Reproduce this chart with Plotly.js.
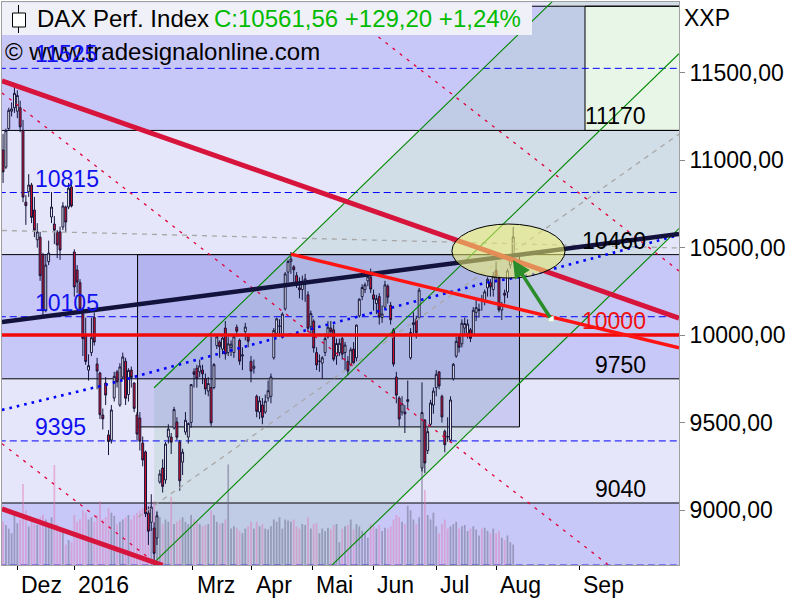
<!DOCTYPE html>
<html><head><meta charset="utf-8">
<script src="https://cdn.plot.ly/plotly-3.0.1.min.js"></script>
<style>html,body{margin:0;padding:0;background:#fff}#chart{width:800px;height:600px}</style>
</head><body><div id="chart"></div>
<script>
// ---- price data (daily OHLC, 24 Nov 2015 .. 9 Aug 2016), bar index 0 = 1 Dec 2015
const firstBar = -5;
const openP = [
 11058,10960,11180,11280,11300,
 11280,11300,11170,10760,10820,10858,10715,10545,10560,10460,10140,10420,10675,10635,10590,10590,10618,10732,10732,10847,
 10475,10372,10300,10120,10000,9800,9900,10100,9835,9783,9543,9726,9429,9400,9640,9789,9600,9760,9850,9660,
 9800,9726,9543,9526,9383,9332,8983,8930,8897,8840,9160,9240,9172,9417,9417,9469,9503,9389,9274,9446,9417,
 9500,9790,9810,9790,9800,9750,9680,9700,9700,9940,9960,9920,10040,9900,9930,9900,10045,9970,9880,10020,10000,
 9850,9810,9650,9560,9600,9560,9640,9650,9870,10010,10050,9990,10150,10360,10420,10390,10340,10270,10260,10290,10230,
 10050,10080,9900,9850,9840,9900,9990,10040,10030,9880,9900,9980,9900,9850,9830,9920,9870,10110,10220,10260,10310,10330,
 10230,10180,10220,10100,10160,10280,10170,10030,9760,9640,9560,9560,9620,9870,10060,10090,10100,9240,9514,9340,9490,9600,
 9700,9790,9650,9450,9420,9400,9750,9880,9990,9950,10040,10010,10030,10000,10130,10140,10200,10190,10270,10300,10260,
 10370,10326,10143,10240,10246,10400,10450];
const highP = [
 11150,11180,11300,11330,11430,
 11400,11340,11230,10800,10920,10870,10790,10640,10590,10470,10460,10540,10818,10680,10600,10620,10760,10740,10870,10860,
 10490,10400,10320,10140,10100,9890,10100,10130,9870,9790,9580,9760,9457,9600,9790,9800,9840,9900,9870,9810,
 9820,9730,9560,9560,9420,9340,9020,9090,8930,8990,9230,9290,9390,9490,9440,9590,9530,9400,9350,9560,9500,
 9720,9810,9830,9860,9830,9780,9760,9990,9840,10000,9970,9990,10080,9990,9970,10000,10060,9980,9930,10070,10010,
 9880,9860,9660,9650,9640,9660,9740,9780,10040,10100,10090,10130,10360,10430,10475,10400,10360,10330,10340,10350,10250,
 10140,10090,9930,9890,9880,10010,10080,10080,10060,9980,9980,9990,9960,9880,9930,9960,10060,10210,10290,10300,10350,10380,
 10260,10230,10240,10170,10310,10290,10190,10040,9790,9650,9650,9600,9740,10040,10130,10110,10270,9730,9520,9470,9630,9700,
 9800,9790,9660,9460,9530,9650,9840,9990,10000,10090,10100,10090,10040,10160,10200,10180,10230,10260,10330,10320,10360,
 10420,10340,10190,10260,10380,10460,10618];
const lowP = [
 10870,10950,11170,11250,11270,
 11240,11160,10760,10630,10790,10640,10560,10500,10310,10110,10130,10400,10640,10520,10440,10430,10600,10590,10720,10730,
 10220,10240,10130,9880,9830,9740,9880,9940,9690,9520,9460,9600,9314,9380,9620,9700,9590,9750,9600,9620,
 9700,9560,9400,9340,9250,8960,8800,8880,8699,8800,9150,9100,9150,9380,9320,9460,9400,9110,9200,9430,9380,
 9470,9700,9700,9760,9720,9660,9650,9480,9690,9920,9870,9890,9860,9880,9880,9870,9990,9830,9800,9970,9930,
 9730,9780,9530,9520,9490,9550,9620,9610,9860,9990,9990,9980,10140,10300,10350,10290,10270,10210,10200,10190,10020,
 10000,9900,9800,9790,9750,9880,9980,9990,9850,9830,9880,9860,9800,9770,9820,9830,9850,10100,10200,10240,10280,10240,
 10140,10120,10060,10070,10150,10180,10060,9820,9610,9480,9540,9440,9580,9860,10000,9980,10090,9220,9211,9320,9480,9550,
 9650,9690,9500,9330,9390,9390,9740,9870,9900,9930,10000,9980,9960,10000,10080,10100,10140,10170,10220,10220,10220,
 10300,10130,10086,10180,10212,10380,10440];
const closeP = [
 10933,11169,11285,11293,11382,
 11370,11190,10789,10740,10858,10673,10600,10590,10340,10139,10400,10469,10732,10600,10515,10486,10738,10646,10840,10738,
 10275,10303,10150,9980,9849,9825,9985,9960,9794,9545,9521,9657,9392,9572,9764,9732,9818,9875,9639,9798,
 9757,9581,9434,9393,9286,8979,8879,9017,8752,8967,9206,9135,9377,9463,9388,9574,9416,9167,9331,9513,9495,
 9717,9776,9751,9824,9778,9692,9723,9498,9831,9990,9933,9983,9892,9950,9948,9990,10022,9851,9887,10046,9965,
 9794,9822,9564,9624,9530,9622,9682,9761,10027,10093,10051,10120,10350,10421,10435,10373,10294,10259,10299,10321,10039,
 10123,9926,9829,9851,9870,9980,10045,10020,9862,9952,9953,9891,9943,9795,9916,9842,10057,10205,10272,10287,10334,10263,
 10205,10208,10103,10121,10287,10217,10088,9834,9657,9520,9607,9550,9631,10015,10071,10015,10257,9557,9269,9448,9612,9680,
 9776,9709,9532,9373,9418,9629,9833,9964,9930,10068,10066,10063,9981,10142,10157,10147,10198,10247,10319,10275,10337,
 10330,10144,10172,10228,10367,10432,10561];
const volume = [
 95,88,80,70,110,
 92,100,178,120,85,95,90,88,105,110,100,92,105,220,90,80,75,45,55,50,
 110,95,100,120,115,100,105,95,110,140,100,105,125,115,108,90,95,100,105,110,
 100,110,115,120,125,135,130,115,140,120,105,90,100,95,150,90,95,100,105,95,90,
 110,100,95,90,85,88,90,120,110,95,90,92,100,221,80,85,82,75,70,80,85,
 95,80,95,85,90,80,78,85,100,95,105,80,100,98,95,100,85,80,90,88,105,
 80,90,92,70,80,75,82,78,88,90,50,80,85,88,100,78,90,85,75,70,60,90,
 85,80,88,75,82,80,85,100,110,105,95,90,130,120,100,90,105,260,165,110,100,115,
 85,70,90,100,80,85,90,95,80,85,88,75,80,85,78,65,80,82,75,70,80,
 70,75,60,55,65,50,45];

// ---- axis and labels
const XMIN = -5.37, XMAX = 232.18, YMIN = 8685.6, YMAX = 11904.2;
const priceTicks = [9000, 9500, 10000, 10500, 11000, 11500];
const priceTickText = ['9000,00','9500,00','10000,00','10500,00','11000,00','11500,00'];
const monthTicks = [0, 19.9, 61.5, 82.3, 103.5, 124.9, 147, 168.1, 197.2];
const monthLabels = ['Dez','2016','Mrz','Apr','Mai','Jun','Jul','Aug','Sep'];

// ---- drawing tools (data coordinates: bar index, price)
const gridLevels = [9040, 9750, 10460, 11170, 11880];
const gridLabels = ['9040', '9750', '10460', '11170'];
const midLevels = [8685, 9395, 10105, 10815, 11525];
const supportLevel = 10000;
const darkBands = [[YMIN, 9040], [9750, 10460], [11170, 11880]];
const boxX = [42.2, 176.2], boxY = [9475, 10460];
const targetBoxX = [199.2, 240], targetBoxY = [11170, 11880];
const channelX = [48, 232.18];
const channelMid = [8699, 11609];
const channelWidth = 1000;
const resistX = [-5.37, 232.18], resistY = [11454, 10097];
const lowerRedX = [-5.37, 51], lowerRedY = [9006, 8684];
const aprilX = [96, 232.18], aprilY = [10463, 9928];
const navyX = [-5.37, 232.18], navyY = [10075, 10578];
const grayRiseX = [42.4, 232.18], grayRiseY = [8960, 11149];
const grayFlatX = [-5.37, 232.18], grayFlatY = [10598, 10498];
const redDashX = [-5.37, 232.18];
const redDashY = [[11384, 8372], [9379, 6367], [13379, 10367]];
const blueDotX = [-5.37, 30.8, 84.5, 130.8, 164.1, 180, 232.18];
const blueDotY = [9572, 9715, 9955, 10155, 10298, 10343, 10572];
const ellipseX = [152.5, 192.2], ellipseY = [10326, 10635];
const arrowFrom = [187.3, 10092], arrowTo = [173.9, 10429];

// ---- build
const PX = x => (x - 2) / 677;
const PY = y => (565 - y) / 563;
const xIdx = closeP.map((_, i) => firstBar + i);
const volScale = 2.6;
const FONT = 'Liberation Sans, Arial, sans-serif';

function line(x, y, color, width, dash) {
  return {type: 'scatter', mode: 'lines', x: x, y: y, hoverinfo: 'skip', showlegend: false,
          line: {color: color, width: width, dash: dash || 'solid'}};
}

const traces = [];
traces.push({type: 'bar', x: xIdx, y: volume.map(v => v * volScale), base: YMIN, width: 0.62,
  marker: {color: closeP.map((c, i) => c >= openP[i] ? 'rgba(105,105,135,0.5)' : 'rgba(225,115,175,0.45)'), line: {width: 0}},
  hoverinfo: 'skip', showlegend: false});
traces.push(line(grayFlatX, grayFlatY, '#a8a8a8', 1.3, '5px,5px'));
traces.push(line(grayRiseX, grayRiseY, '#a8a8a8', 1.3, '5px,5px'));
redDashY.forEach(y => traces.push(line(redDashX, y, '#e0003a', 1.3, '3px,6px')));
[1, 0, -1].forEach(k => traces.push(line(channelX, channelMid.map(v => v + k * channelWidth), '#008800', 1.1)));
traces.push(line(blueDotX, blueDotY, '#0000ff', 2.6, '2.6px,5px'));
traces.push(line(navyX, navyY, '#12123c', 4.5));
traces.push(line(resistX, resistY, '#d6143c', 5));
traces.push(line(lowerRedX, lowerRedY, '#d6143c', 5));
traces.push(line([XMIN, XMAX], [supportLevel, supportLevel], '#f00a0a', 3.5));
traces.push(line(aprilX, aprilY, '#ff1414', 3.5));
traces.push({type: 'candlestick', x: xIdx, open: openP, high: highP, low: lowP, close: closeP,
  increasing: {line: {color: '#14143c', width: 1}, fillcolor: '#ffffff'},
  decreasing: {line: {color: '#14143c', width: 1}, fillcolor: '#e0102a'},
  whiskerwidth: 0, hoverinfo: 'skip', showlegend: false});
traces.push({type: 'scatter', mode: 'markers', x: [arrowFrom[0]], y: [arrowFrom[1]], hoverinfo: 'skip', showlegend: false,
  marker: {symbol: 'square', size: 5, color: '#ffffff', line: {color: '#c8e0c8', width: 1}}});

const shapes = [];
const XL = XMIN - 5, XR = XMAX + 10;
darkBands.forEach(b => shapes.push({type: 'rect', layer: 'below', xref: 'x', x0: XL, x1: XR, yref: 'y', y0: b[0] - (b[0] === YMIN ? 50 : 0), y1: b[1],
  fillcolor: '#c8c8f8', line: {width: 0}}));
const cx0 = channelX[0], cx1 = channelX[1] + 10, slope = (channelMid[1] - channelMid[0]) / (channelX[1] - channelX[0]);
const cyAt = (x, k) => channelMid[0] + slope * (x - cx0) + k * channelWidth;
shapes.push({type: 'path', layer: 'below', xref: 'x', yref: 'y',
  path: `M ${cx0} ${cyAt(cx0, 1)} L ${cx1} ${cyAt(cx1, 1)} L ${cx1} ${cyAt(cx1, -1)} L ${cx0} ${cyAt(cx0, -1)} Z`,
  fillcolor: 'rgba(180,210,205,0.42)', line: {width: 0}});
shapes.push({type: 'rect', layer: 'below', xref: 'x', yref: 'y', x0: boxX[0], x1: boxX[1], y0: boxY[0], y1: boxY[1],
  fillcolor: 'rgba(120,120,220,0.25)', line: {color: '#000', width: 1}});
shapes.push({type: 'rect', layer: 'below', xref: 'x', yref: 'y', x0: targetBoxX[0], x1: targetBoxX[1], y0: targetBoxY[0], y1: targetBoxY[1],
  fillcolor: '#e8f6e8', line: {color: '#000', width: 1}});
gridLevels.forEach(v => shapes.push({type: 'line', layer: 'below', xref: 'x', x0: XL, x1: XR, yref: 'y', y0: v, y1: v,
  line: {color: '#000', width: 1}}));
midLevels.forEach(v => shapes.push({type: 'line', layer: 'below', xref: 'x', x0: XL, x1: XR, yref: 'y', y0: v, y1: v,
  line: {color: '#0000ff', width: 1, dash: '7px,4px'}}));
shapes.push({type: 'circle', layer: 'above', xref: 'x', yref: 'y', x0: ellipseX[0], x1: ellipseX[1], y0: ellipseY[0], y1: ellipseY[1],
  fillcolor: 'rgba(240,240,110,0.55)', line: {color: '#000', width: 1}});
// title panel + candle icon
shapes.push({type: 'rect', layer: 'above', xref: 'paper', yref: 'paper', x0: 0, x1: PX(532), y0: PY(35), y1: PY(3),
  fillcolor: '#f0f0f8', line: {width: 0}});
shapes.push({type: 'line', layer: 'above', xref: 'paper', yref: 'paper', x0: PX(18.5), x1: PX(18.5), y0: PY(33), y1: PY(5),
  line: {color: '#000', width: 1}});
shapes.push({type: 'rect', layer: 'above', xref: 'paper', yref: 'paper', x0: PX(12.5), x1: PX(25.5), y0: PY(27), y1: PY(13),
  fillcolor: '#fff', line: {color: '#000', width: 1}});

const ann = [];
const txt = (text, x, y, opts) => Object.assign({text: text, x: x, y: y, xref: 'paper', yref: 'paper', showarrow: false,
  xanchor: 'left', yanchor: 'middle', font: {family: FONT, size: 23, color: '#000'}}, opts || {});
ann.push(txt('DAX Perf. Index', PX(35), PY(19), {font: {family: FONT, size: 24, color: '#000'}}));
ann.push(txt('C:10561,56 +129,20 +1,24%', PX(212), PY(19), {font: {family: FONT, size: 24, color: '#00bb00'}}));
ann.push(txt('© www.tradesignalonline.com', PX(3), PY(51), {font: {family: FONT, size: 24, color: '#000'}}));
ann.push(txt('XXP', PX(682), PY(18)));
midLevels.forEach(v => ann.push(txt(String(v), PX(33), v, {yref: 'y', yshift: 14, font: {family: FONT, size: 23, color: '#1010f0'}})));
gridLabels.forEach((t, i) => ann.push(txt(t, PX(648), gridLevels[i], {yref: 'y', yshift: 14, xanchor: 'right'})));
ann.push(txt(String(supportLevel), PX(648), supportLevel, {yref: 'y', yshift: 14, xanchor: 'right', font: {family: FONT, size: 23, color: '#f01010'}}));
monthTicks.forEach((t, i) => ann.push(txt(monthLabels[i], t, PY(585), {xref: 'x', xshift: 2})));
ann.push({x: arrowTo[0], y: arrowTo[1], ax: arrowFrom[0], ay: arrowFrom[1], xref: 'x', yref: 'y', axref: 'x', ayref: 'y',
  text: '', showarrow: true, arrowhead: 2, arrowsize: 1, arrowwidth: 3.5, arrowcolor: '#2a8c2a'});

const layout = {
  width: 800, height: 600, margin: {l: 2, r: 121, t: 2, b: 35},
  paper_bgcolor: '#ffffff', plot_bgcolor: '#e6e6fa', showlegend: false, hovermode: false, boxgap: 0.05,
  xaxis: {range: [XMIN, XMAX], showgrid: false, zeroline: false, showline: true, mirror: true, linecolor: '#a0a0a0',
    ticks: 'outside', ticklen: 4, tickcolor: '#000', tickvals: monthTicks, showticklabels: false,
    rangeslider: {visible: false}, fixedrange: true},
  yaxis: {range: [YMIN, YMAX], side: 'right', showgrid: false, zeroline: false, showline: true, mirror: true,
    linecolor: '#a0a0a0', ticks: 'outside', ticklen: 5, tickcolor: '#888', tickvals: priceTicks, ticktext: priceTickText,
    tickfont: {family: FONT, size: 23, color: '#000'}, fixedrange: true},
  shapes: shapes, annotations: ann
};
Plotly.newPlot('chart', traces, layout, {staticPlot: true, displayModeBar: false});
</script>
</body></html>
